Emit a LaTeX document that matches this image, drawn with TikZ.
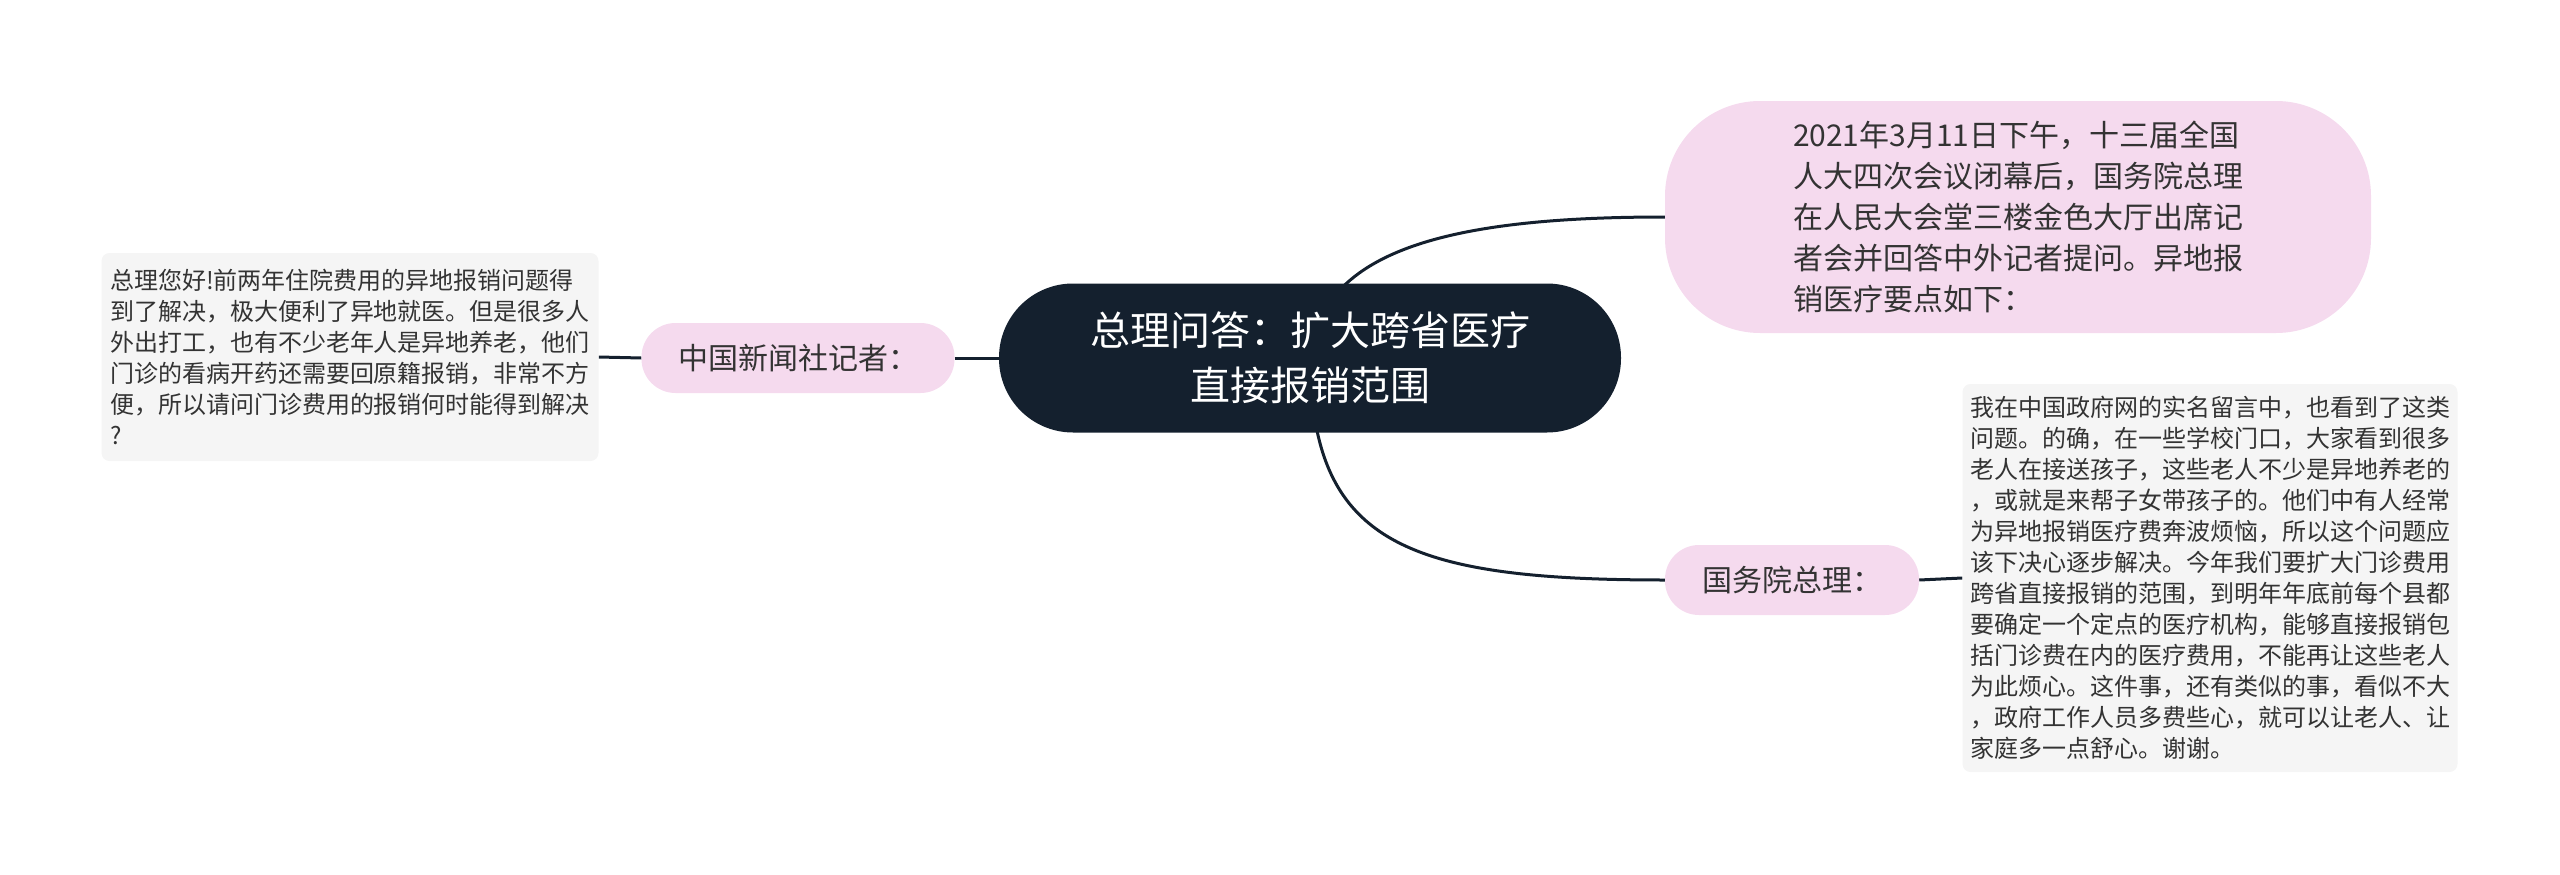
\documentclass[tikz,border=0pt]{standalone}
\usepackage{fontspec}
\setmainfont{Noto Sans CJK SC}
\usetikzlibrary{positioning,calc,backgrounds}
\definecolor{MapNavy}{HTML}{14202E}
\definecolor{MapPink}{HTML}{F5DAEE}
\definecolor{MapGray}{HTML}{F5F5F5}
\definecolor{MapText}{HTML}{333333}

\begin{document}
\begin{tikzpicture}[
  x=1pt,y=-1pt,
  every node/.style={inner sep=0pt,text=MapText},
  root/.style={fill=MapNavy,rounded corners=74pt,minimum width=622pt,
    minimum height=149pt,text=white,align=center,
    font=\fontsize{40}{55}\selectfont},
  topic/.style={fill=MapPink,rounded corners=34pt,minimum height=70pt,
    align=center,font=\fontsize{30}{41}\selectfont},
  intro/.style={fill=MapPink,rounded corners=95pt,minimum width=706pt,
    minimum height=232pt,align=left,font=\fontsize{30}{41}\selectfont},
  note/.style={fill=MapGray,rounded corners=8pt,align=left,
    font=\fontsize{24}{31}\selectfont},
  link/.style={draw=MapNavy,line width=3pt}
]
\useasboundingbox (0,0) rectangle (2560,875);

\node[root] (root) at (1310,358) {总理问答：扩大跨省医疗\\直接报销范围};
\node[topic,minimum width=313pt] (reporter) at (798,358) {中国新闻社记者：};
\node[note,minimum width=497pt,minimum height=208pt] (question) at (350,357)
  {总理您好!前两年住院费用的异地报销问题得\\
   到了解决，极大便利了异地就医。但是很多人\\
   外出打工，也有不少老年人是异地养老，他们\\
   门诊的看病开药还需要回原籍报销，非常不方\\
   便，所以请问门诊费用的报销何时能得到解决\\
   ?};
\node[intro] (intro) at (2018,217)
  {2021年3月11日下午，十三届全国\\
   人大四次会议闭幕后，国务院总理\\
   在人民大会堂三楼金色大厅出席记\\
   者会并回答中外记者提问。异地报\\
   销医疗要点如下：};
\node[topic,minimum width=254pt] (premier) at (1792,580) {国务院总理：};
\node[note,minimum width=495pt,minimum height=388pt] (answer) at (2210,578)
  {我在中国政府网的实名留言中，也看到了这类\\
   问题。的确，在一些学校门口，大家看到很多\\
   老人在接送孩子，这些老人不少是异地养老的\\
   ，或就是来帮子女带孩子的。他们中有人经常\\
   为异地报销医疗费奔波烦恼，所以这个问题应\\
   该下决心逐步解决。今年我们要扩大门诊费用\\
   跨省直接报销的范围，到明年年底前每个县都\\
   要确定一个定点的医疗机构，能够直接报销包\\
   括门诊费在内的医疗费用，不能再让这些老人\\
   为此烦心。这件事，还有类似的事，看似不大\\
   ，政府工作人员多费些心，就可以让老人、让\\
   家庭多一点舒心。谢谢。};

% connectors under the nodes
\begin{pgfonlayer}{background}
\draw[link] (question.east) -- (reporter.west);
\draw[link] (reporter.east) -- (root.west);
\draw[link] (root.center) .. controls ($(root.center)+(10,-108)$)
  and ($(intro.west)+(-215,0)$) .. (intro.west);
\draw[link] (root.center) .. controls ($(root.center)+(2,182)$)
  and ($(premier.west)+(-265,0)$) .. (premier.west);
\draw[link] (premier.east) -- (answer.west);
\end{pgfonlayer}
\end{tikzpicture}
\end{document}
